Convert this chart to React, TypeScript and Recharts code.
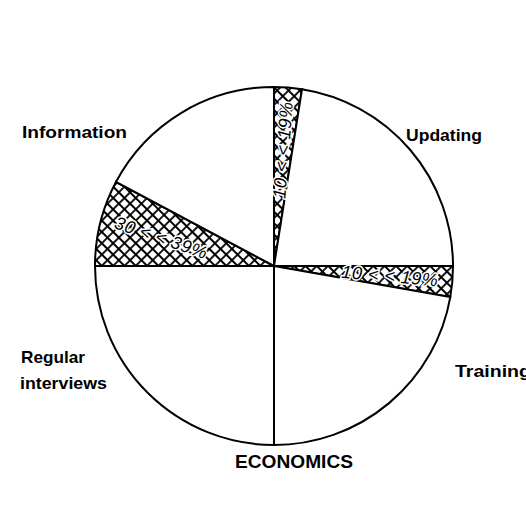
import React from "react";
import { PieChart, Pie, Cell } from "recharts";

// Sector sizes in degrees, clockwise from 12 o'clock
const sectorNames = ["hatchTop", "Updating", "hatchRight", "Training", "Economics", "hatchLeft", "Information"];
const sectorValues = [9, 81, 10, 80, 90, 28, 62];
const sectorHatched = [true, false, true, false, false, true, false];
const hatchLabels = ["10 < < 19%", "", "10 < < 19%", "", "", "30 < < 39%", ""];

const outerLabels = [
  { text: "Information", x: 22, y: 138, w: 105, size: 17 },
  { text: "Updating", x: 406, y: 141, w: 76, size: 17 },
  { text: "Training", x: 455, y: 377, w: 76, size: 17 },
  { text: "ECONOMICS", x: 235, y: 468, w: 118, size: 18 },
  { text: "Regular", x: 21, y: 363, w: 64, size: 17 },
  { text: "interviews", x: 20, y: 389, w: 87, size: 17 },
];

const data = sectorNames.map((name, i) => ({ name, value: sectorValues[i] }));

const RAD = Math.PI / 180;

const renderHatchLabel = (props: any) => {
  const { cx, cy, midAngle, outerRadius, index } = props;
  const text = hatchLabels[index];
  if (!text) return null;
  const r = outerRadius * 0.65;
  const x = cx + r * Math.cos(-midAngle * RAD);
  const y = cy + r * Math.sin(-midAngle * RAD);
  let rot = -midAngle;
  const m = ((midAngle % 360) + 360) % 360;
  if (m > 90 && m < 270) rot = 180 - midAngle;
  if (index === 5) rot += 5;
  return (
    <text
      key={`hl-${index}`}
      x={x}
      y={y}
      transform={`rotate(${rot} ${x} ${y})`}
      textAnchor="middle"
      dominantBaseline="central"
      fontFamily="Liberation Sans, Arial, sans-serif"
      fontStyle="italic"
      fontSize={18}
      letterSpacing={0.5}
      fill="#000"
      stroke="#fff"
      strokeWidth={3}
      paintOrder="stroke"
    >
      {text}
    </text>
  );
};

export default function App() {
  return (
    <div style={{ position: "absolute", left: 0, top: 0, width: 526, height: 511, background: "#fff" }}>
      <PieChart width={526} height={511} margin={{ top: 0, right: 0, bottom: 0, left: 0 }}>
        <defs>
          <pattern id="cross" width="8" height="8" patternUnits="userSpaceOnUse" patternTransform="rotate(45)">
            <rect width="8" height="8" fill="#fff" />
            <path d="M0 4 H8 M4 0 V8" stroke="#000" strokeWidth="1.8" />
          </pattern>
        </defs>
        <Pie
          data={data}
          dataKey="value"
          cx={274}
          cy={266}
          outerRadius={179}
          startAngle={90}
          endAngle={-270}
          stroke="#000"
          strokeWidth={2}
          isAnimationActive={false}
          label={renderHatchLabel}
          labelLine={false}
        >
          {data.map((d, i) => (
            <Cell key={d.name} fill={sectorHatched[i] ? "url(#cross)" : "#fff"} />
          ))}
        </Pie>
        {outerLabels.map((l) => (
          <text
            key={l.text}
            x={l.x}
            y={l.y}
            fontFamily="Liberation Sans, Arial, sans-serif"
            fontWeight="bold"
            fontSize={l.size}
            textLength={l.w}
            lengthAdjust="spacingAndGlyphs"
            fill="#000"
          >
            {l.text}
          </text>
        ))}
      </PieChart>
    </div>
  );
}
